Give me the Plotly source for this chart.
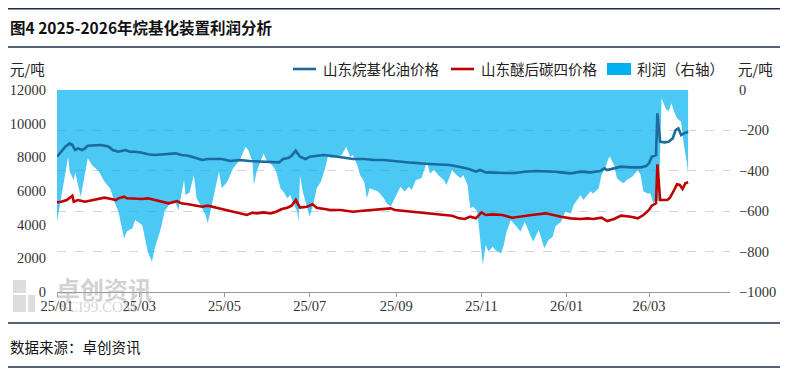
import pandas as pd
import plotly.graph_objects as go

START = "2025-01-01"

# ---- profit (right axis), day offsets from 2025-01-01 ----
profit_days = [0, 3, 8, 9, 12, 13, 15, 17, 19, 22, 25, 30, 34, 38, 42, 44, 46, 48, 50, 54,
               56, 58, 61, 63, 65, 68, 70, 73, 75, 77, 81, 85, 87, 89, 91, 92, 95, 98, 100, 104,
               106, 108, 111, 113, 116, 118, 119, 122, 126, 131, 135, 137, 140, 141, 143, 147, 148, 150, 154, 157,
               160, 162, 165, 167, 169, 172, 173, 174, 176, 179, 181, 184, 186, 189, 192, 194, 197, 200, 204, 207,
               210, 212, 215, 217, 220, 222, 224, 227, 230, 234, 236, 239, 246, 249, 252, 254, 257, 261, 265, 267,
               270, 273, 277, 279, 283, 285, 289, 291, 294, 296, 298, 301, 303, 305, 307, 309, 312, 314, 318, 320,
               322, 325, 327, 330, 332, 335, 338, 340, 341, 345, 349, 352, 355, 357, 361, 364, 368, 370, 373, 375,
               377, 380, 382, 384, 388, 390, 393, 395, 396, 399, 401, 404, 406, 408, 412, 416, 418, 420, 423, 425,
               427, 429, 431, 433, 436, 438, 440, 442, 444, 447, 449, 451, 452]
profit = [-652, -536, -330, -404, -446, -408, -470, -528, -454, -338, -371, -404, -454, -487, -569, -602, -668, -734, -701, -685,
          -644, -652, -668, -734, -800, -850, -784, -718, -668, -602, -561, -561, -594, -520, -446, -520, -507, -421, -536, -586,
          -611, -660, -569, -495, -404, -487, -480, -454, -388, -347, -281, -297, -355, -470, -404, -330, -314, -347, -371, -404,
          -487, -503, -536, -520, -553, -602, -652, -421, -503, -586, -627, -553, -487, -454, -388, -330, -338, -330, -322, -281,
          -330, -322, -371, -421, -454, -536, -487, -495, -503, -536, -561, -577, -479, -503, -479, -495, -446, -437, -355, -413,
          -396, -421, -446, -470, -396, -413, -437, -421, -470, -586, -577, -602, -751, -866, -767, -800, -776, -792, -809, -767,
          -701, -644, -660, -685, -701, -652, -701, -734, -751, -693, -784, -742, -726, -675, -652, -602, -611, -569, -536, -520,
          -545, -520, -503, -512, -487, -421, -380, -338, -330, -371, -437, -454, -462, -446, -429, -396, -421, -503, -512, -512,
          -560, -545, -550, -41, -91, -107, -66, -107, -140, -157, -272, -355, -413]

# ---- Shandong alkylate price (left axis) ----
alk_days = [0, 2, 6, 9, 11, 13, 15, 18, 20, 22, 27, 32, 37, 40, 44, 49, 52, 56, 61, 65,
            70, 77, 85, 89, 94, 99, 104, 108, 113, 118, 124, 131, 138, 146, 153, 159, 162, 166, 168, 171,
            174, 178, 181, 186, 191, 196, 200, 205, 212, 220, 227, 234, 245, 254, 264, 273, 281, 288, 295, 300,
            303, 307, 314, 321, 328, 335, 343, 350, 357, 361, 368, 375, 382, 389, 392, 394, 399, 404, 411, 418,
            422, 424, 426, 429, 430, 432, 435, 438, 441, 443, 445, 447, 449, 452]
alk_price = [8037, 8237, 8632, 8830, 8732, 8435, 8534, 8435, 8534, 8690, 8730, 8730, 8632, 8435, 8336, 8435, 8336, 8336, 8276, 8178,
             8138, 8178, 8237, 8138, 8098, 7979, 7841, 7900, 7880, 7900, 7781, 7841, 7781, 7742, 7742, 7702, 7900, 7979, 8098, 8395,
             8040, 7900, 8040, 8098, 8138, 8098, 8040, 7979, 7900, 7900, 7841, 7841, 7742, 7683, 7623, 7583, 7544, 7445, 7306, 7148,
             7247, 7108, 7069, 7069, 7069, 7148, 7188, 7188, 7148, 7108, 7049, 7148, 7108, 7188, 7346, 7247, 7346, 7445, 7405, 7405,
             7484, 7643, 8037, 8138, 10613, 8930, 8890, 8930, 9128, 9623, 9722, 9326, 9425, 9524]

# ---- Shandong post-ether C4 price (left axis) ----
c4_days = [0, 3, 7, 11, 12, 15, 20, 25, 30, 34, 39, 42, 44, 48, 50, 56, 61, 65, 70, 75,
           80, 86, 89, 94, 99, 104, 108, 113, 118, 124, 131, 136, 140, 143, 148, 153, 157, 161, 165, 168,
           171, 174, 179, 183, 186, 191, 196, 203, 208, 212, 217, 224, 232, 239, 242, 249, 259, 269, 276, 283,
           288, 292, 296, 300, 304, 307, 312, 319, 326, 333, 340, 350, 355, 361, 368, 375, 380, 384, 390, 394,
           399, 404, 411, 416, 420, 424, 426, 429, 430, 432, 437, 439, 442, 444, 446, 448, 450, 452]
c4_price = [5327, 5366, 5465, 5722, 5366, 5465, 5366, 5465, 5564, 5603, 5524, 5465, 5564, 5662, 5564, 5524, 5524, 5564, 5465, 5366,
            5267, 5405, 5267, 5208, 5129, 5069, 5129, 5010, 4930, 4811, 4673, 4574, 4713, 4673, 4732, 4673, 4772, 4930, 5010, 5129,
            5465, 5010, 5069, 5208, 5010, 4930, 4871, 4871, 4811, 4772, 4811, 4871, 4930, 4970, 4871, 4811, 4732, 4673, 4574, 4534,
            4375, 4336, 4475, 4375, 4732, 4574, 4613, 4574, 4415, 4475, 4574, 4673, 4574, 4475, 4375, 4336, 4375, 4336, 4415, 4217,
            4336, 4534, 4475, 4375, 4574, 4871, 5129, 5267, 7584, 5465, 5465, 5603, 6059, 6395, 6356, 6118, 6455, 6514]

left_ticks = [0, 2000, 4000, 6000, 8000, 10000, 12000]
right_ticks = [-1000, -800, -600, -400, -200, 0]

names = ["山东烷基化油价格", "山东醚后碳四价格", "利润（右轴）"]
colors = ["#1b6b9c", "#c00000", "#00b0f0"]

base = pd.Timestamp(START)
to_dates = lambda d: [base + pd.Timedelta(days=int(v)) for v in d]

# The page body has an 8px margin, so the figure is drawn 8px in from the window corner.
OFF = 8
W, H = 788 - OFF, 375 - OFF
L, R, T, B = 57 - OFF, 730 - OFF, 90 - OFF, 292 - OFF


def px(x):
    """window x (reference pixel) -> paper fraction"""
    return (x - OFF - L) / (R - L)


def py(y):
    """window y (reference pixel) -> paper fraction"""
    return (B - (y - OFF)) / (B - T)


CJK = "Noto Sans CJK SC"
NUM = "Liberation Serif"
TICKFONT = dict(family=NUM, size=14.5, color="#333333")

fig = go.Figure()
fig.add_trace(go.Scatter(
    x=to_dates(profit_days), y=profit, name=names[2], mode="lines",
    fill="tozeroy", fillcolor="rgba(0,176,240,0.70)", line=dict(width=0, color=colors[2]),
    yaxis="y", showlegend=False))
fig.add_trace(go.Scatter(
    x=to_dates(alk_days), y=alk_price, name=names[0], mode="lines",
    line=dict(color=colors[0], width=2.6), yaxis="y2", showlegend=False))
fig.add_trace(go.Scatter(
    x=to_dates(c4_days), y=c4_price, name=names[1], mode="lines",
    line=dict(color=colors[1], width=2.6), yaxis="y2", showlegend=False))

fig.update_layout(
    width=W, height=H,
    margin=dict(l=L, r=W - R, t=T, b=H - B, autoexpand=False),
    paper_bgcolor="white", plot_bgcolor="white",
    font=dict(family=CJK, color="#222222"),
    xaxis=dict(type="date", range=["2025-01-01", "2026-04-28"], dtick="M2", tick0="2025-01-01",
               tickformat="%y/%m", showgrid=False, showline=True, linecolor="#999999", linewidth=1.3,
               ticks="outside", ticklen=4, tickcolor="#999999", automargin=False,
               ticklabelstandoff=-4, tickfont=TICKFONT),
    yaxis=dict(side="right", range=[-1000, 0], tickvals=right_ticks, showgrid=True,
               gridcolor="#d4d4d4", griddash="dash", gridwidth=1, zeroline=False, showline=False,
               tickformat="d", ticklabelstandoff=8, automargin=False, tickfont=TICKFONT),
    yaxis2=dict(side="left", overlaying="y", range=[0, 12000], tickvals=left_ticks, showgrid=False,
                zeroline=False, showline=False, tickformat="d", ticklabelstandoff=10,
                automargin=False, tickfont=TICKFONT),
    showlegend=False,
)

LEG_FONT = dict(family=CJK, size=14.5, color="#222222")
anns = [
    dict(text="<b>图4 2025-2026年烷基化装置利润分析</b>", x=px(OFF), y=py(27), xanchor="left",
         yanchor="middle", font=dict(family=CJK, size=15.5, color="#111111")),
    dict(text="元/吨", x=px(27), y=py(69), xanchor="center", yanchor="middle", font=LEG_FONT),
    dict(text="元/吨", x=px(755), y=py(69), xanchor="center", yanchor="middle", font=LEG_FONT),
    dict(text="数据来源：卓创资讯", x=px(OFF), y=py(346), xanchor="left", yanchor="middle",
         font=dict(family=CJK, size=14.5, color="#111111")),
    dict(text="<b>卓创资讯</b>", x=px(104), y=py(288), xanchor="center", yanchor="middle",
         font=dict(family=CJK, size=24, color="rgba(165,165,165,0.5)")),
    dict(text="SCI99.COM", x=px(98), y=py(307), xanchor="center", yanchor="middle",
         font=dict(family=NUM, size=15, color="rgba(170,170,170,0.5)")),
    # legend texts
    dict(text=names[0], x=px(321), y=py(69), xanchor="left", yanchor="middle", font=LEG_FONT),
    dict(text=names[1], x=px(479), y=py(69), xanchor="left", yanchor="middle", font=LEG_FONT),
    dict(text=names[2], x=px(635), y=py(69), xanchor="left", yanchor="middle", font=LEG_FONT),
]
for a in anns:
    a.update(xref="paper", yref="paper", showarrow=False)
fig.update_layout(annotations=anns)

shapes = []
for yy in (OFF + 0.8, 47, 323, 367):
    shapes.append(dict(type="line", xref="paper", yref="paper", x0=px(OFF), x1=px(788), y0=py(yy), y1=py(yy),
                       line=dict(color="#1f2d4a", width=1.5)))
for (x0, y0, x1, y1) in [(13, 280, 26, 293), (13, 295, 26, 312), (28, 295, 35, 312)]:
    shapes.append(dict(type="rect", xref="paper", yref="paper", x0=px(x0), x1=px(x1), y0=py(y0), y1=py(y1),
                       fillcolor="rgba(170,170,170,0.4)", line=dict(width=0)))
# legend symbols
shapes.append(dict(type="line", xref="paper", yref="paper", x0=px(293), x1=px(316), y0=py(69), y1=py(69),
                   line=dict(color=colors[0], width=2.6)))
shapes.append(dict(type="line", xref="paper", yref="paper", x0=px(451), x1=px(474), y0=py(69), y1=py(69),
                   line=dict(color=colors[1], width=2.6)))
shapes.append(dict(type="rect", xref="paper", yref="paper", x0=px(607), x1=px(631), y0=py(63), y1=py(75),
                   fillcolor=colors[2], line=dict(width=0)))
fig.update_layout(shapes=shapes)

fig.write_html("out.html")
